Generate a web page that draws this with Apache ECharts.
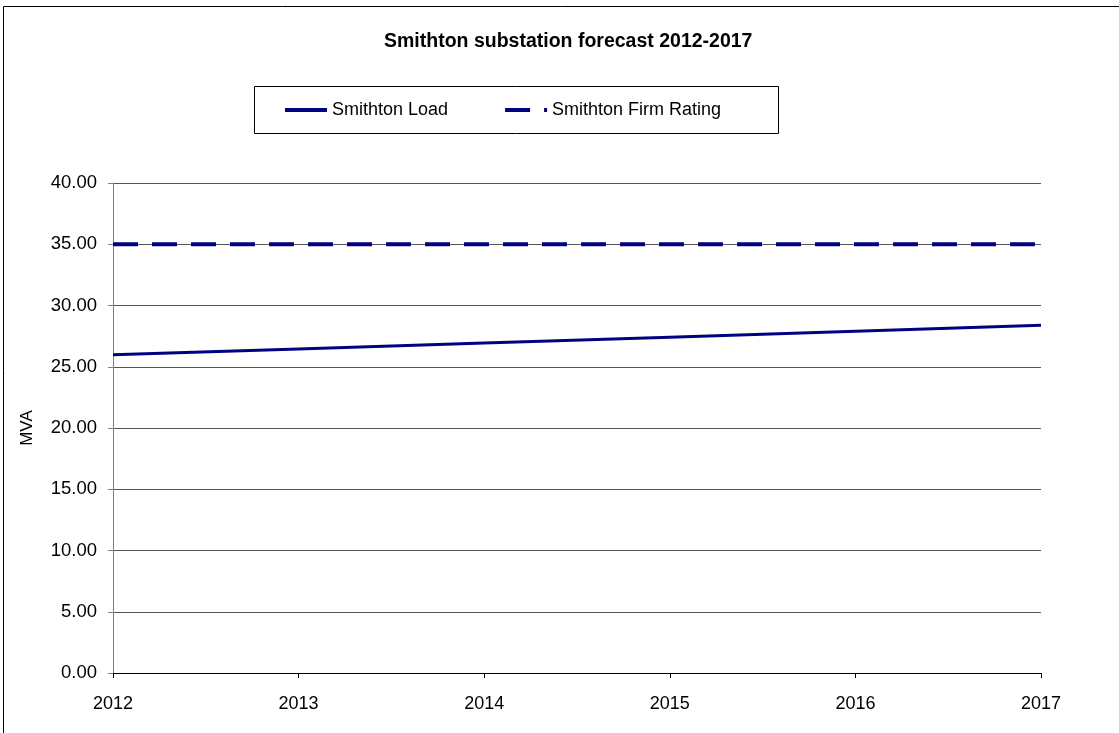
<!DOCTYPE html>
<html>
<head>
<meta charset="utf-8">
<title>Smithton substation forecast 2012-2017</title>
<script src="https://cdn.jsdelivr.net/npm/echarts@6/dist/echarts.min.js"></script>
<style>
  html, body { margin: 0; padding: 0; background: #ffffff; }
  #chart { width: 1119px; height: 733px; }
</style>
</head>
<body>
<div id="chart"></div>
<script>
// Forecast years along the x axis
const years = ['2012', '2013', '2014', '2015', '2016', '2017'];
// Forecast load on the substation (MVA)
const smithtonLoad = [25.98, 26.45, 26.93, 27.41, 27.90, 28.38];
// Firm rating of the substation (MVA)
const smithtonFirmRating = [35, 35, 35, 35, 35, 35];
// Value axis range and step
const yMin = 0;
const yMax = 40;
const yStep = 5;

const FONT = '"Liberation Sans", Arial, sans-serif';
const NAVY = '#000080';
const FIRM_DASH = [25, 14];

const chart = echarts.init(document.getElementById('chart'), null, { renderer: 'canvas' });

chart.setOption({
  backgroundColor: '#ffffff',
  animation: false,
  title: {
    text: 'Smithton substation forecast 2012-2017',
    left: 384,
    top: 32,
    padding: 0,
    textStyle: { fontFamily: FONT, fontSize: 19.5, fontWeight: 'bold', color: '#000000' }
  },
  graphic: [
    // outer chart frame
    {
      type: 'rect',
      shape: { x: 3.5, y: 6.5, width: 1200, height: 800 },
      style: { fill: null, stroke: '#000000', lineWidth: 1 },
      silent: true
    },
    // legend frame
    {
      type: 'rect',
      shape: { x: 254.5, y: 86.5, width: 524, height: 47 },
      style: { fill: '#ffffff', stroke: '#000000', lineWidth: 1 },
      z: 0,
      silent: true
    }
  ],
  legend: {
    left: 283,
    top: 101,
    padding: 0,
    itemGap: 55,
    itemWidth: 42,
    itemHeight: 18,
    z: 10,
    // line-only keys: hide the marker drawn on top of the line
    itemStyle: { opacity: 0 },
    textStyle: { fontFamily: FONT, fontSize: 18, color: '#000000' },
    data: [
      { name: 'Smithton Load', lineStyle: { color: NAVY, width: 4, type: 'solid' } },
      { name: 'Smithton Firm Rating', lineStyle: { color: NAVY, width: 4, type: FIRM_DASH } }
    ]
  },
  grid: {
    left: 113,
    right: 78,
    top: 183,
    bottom: 60,
    containLabel: false
  },
  xAxis: {
    type: 'category',
    data: years,
    boundaryGap: false,
    axisLine: { show: true, lineStyle: { color: '#000000', width: 1 } },
    axisTick: { show: true, inside: false, length: 5, lineStyle: { color: '#000000' } },
    axisLabel: { fontFamily: FONT, fontSize: 18, color: '#000000', margin: 22 },
    splitLine: { show: false }
  },
  yAxis: {
    type: 'value',
    min: yMin,
    max: yMax,
    interval: yStep,
    name: 'MVA',
    nameLocation: 'middle',
    nameGap: 77,
    nameRotate: 90,
    nameTextStyle: { fontFamily: FONT, fontSize: 17, color: '#000000' },
    axisLine: { show: true, lineStyle: { color: '#808080', width: 1 } },
    axisTick: { show: true, inside: false, length: 5, lineStyle: { color: '#808080' } },
    axisLabel: {
      fontFamily: FONT, fontSize: 18.5, color: '#000000', margin: 16,
      formatter: v => v.toFixed(2)
    },
    splitLine: { show: true, lineStyle: { color: '#555555', width: 1 } }
  },
  series: [
    {
      name: 'Smithton Load',
      type: 'line',
      data: smithtonLoad,
      symbol: 'none',
      showSymbol: false,
      lineStyle: { color: NAVY, width: 3 },
      itemStyle: { color: NAVY },
      z: 3
    },
    {
      name: 'Smithton Firm Rating',
      type: 'line',
      data: smithtonFirmRating,
      symbol: 'none',
      showSymbol: false,
      lineStyle: { color: NAVY, width: 4, type: FIRM_DASH },
      itemStyle: { color: NAVY },
      z: 3
    }
  ]
});
</script>
</body>
</html>
